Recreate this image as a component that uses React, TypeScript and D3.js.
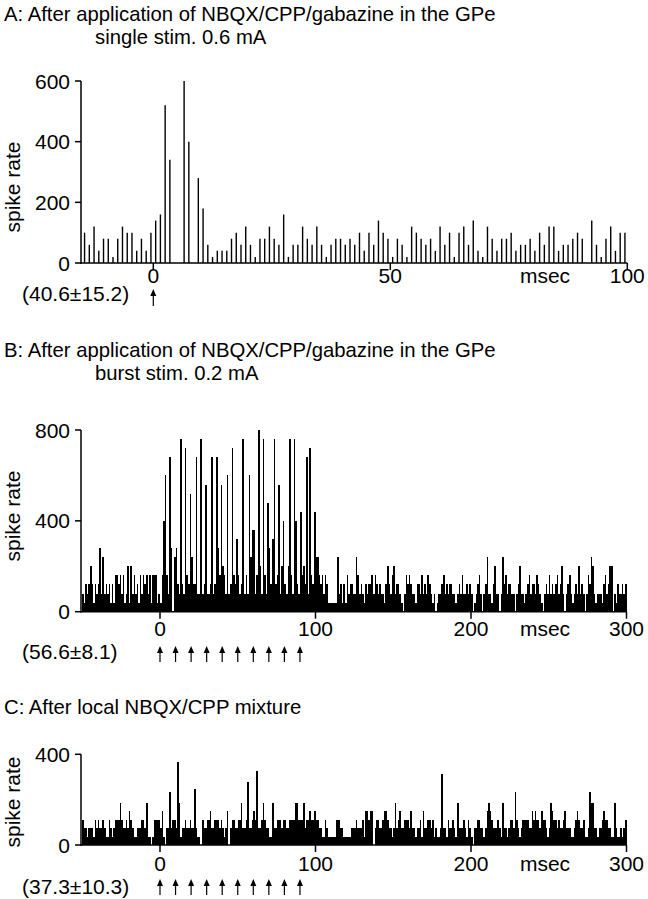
import React from "react";
import * as d3 from "d3";

// ---------- DATA ----------
// Panel A: 1-ms bins starting at -15 ms (spike rate, spikes/s)
const aStart = -15;
const aRate = [
  100, 60, 120, 40, 80, 80, 20, 80, 120, 100,
  100, 40, 80, 40, 100, 140, 160, 520, 340, 0,
  0, 600, 400, 0, 280, 180, 60, 20, 40, 40,
  40, 80, 100, 60, 120, 60, 20, 80, 80, 120,
  80, 60, 160, 20, 60, 60, 120, 80, 60, 120,
  60, 20, 60, 80, 80, 60, 80, 60, 100, 40,
  100, 60, 140, 100, 80, 20, 80, 60, 20, 120,
  100, 80, 60, 80, 40, 120, 60, 100, 20, 100,
  120, 60, 140, 40, 20, 120, 80, 40, 80, 80,
  100, 40, 60, 60, 80, 40, 100, 60, 120, 120,
  40, 60, 60, 80, 100, 80, 0, 140, 60, 20,
  80, 120, 40, 100, 100,
];

// Panel B: 1-ms bins starting at -50 ms
const bStart = -50;
const bRate = [
  80, 40, 120, 80, 120, 200, 120, 40, 120, 80,
  120, 280, 80, 240, 80, 120, 80, 120, 40, 120,
  40, 160, 160, 120, 160, 80, 160, 40, 80, 200,
  40, 200, 80, 160, 80, 120, 40, 160, 80, 160,
  120, 160, 80, 160, 40, 160, 160, 160, 40, 80,
  40, 160, 400, 600, 160, 80, 680, 280, 0, 240,
  280, 120, 80, 760, 120, 80, 720, 160, 120, 520,
  240, 120, 120, 680, 80, 80, 760, 80, 120, 560,
  80, 80, 120, 680, 80, 120, 680, 280, 160, 560,
  200, 160, 80, 600, 80, 120, 720, 160, 120, 320,
  160, 80, 120, 760, 80, 160, 80, 600, 240, 360,
  360, 80, 160, 800, 200, 80, 760, 160, 80, 480,
  280, 120, 320, 760, 120, 160, 560, 80, 200, 400,
  120, 80, 200, 760, 160, 80, 760, 400, 120, 80,
  440, 160, 200, 120, 680, 80, 720, 160, 120, 440,
  240, 240, 160, 120, 160, 80, 160, 120, 40, 40,
  40, 40, 40, 40, 240, 80, 120, 40, 120, 40,
  160, 80, 120, 120, 80, 80, 240, 160, 80, 120,
  80, 40, 120, 80, 120, 120, 160, 80, 160, 120,
  80, 120, 80, 80, 40, 120, 200, 120, 80, 160,
  200, 80, 120, 120, 80, 40, 0, 80, 160, 120,
  160, 120, 80, 80, 40, 120, 120, 80, 160, 80,
  120, 80, 160, 120, 80, 40, 80, 0, 40, 80,
  80, 120, 160, 80, 120, 80, 120, 120, 80, 80,
  40, 80, 120, 80, 160, 80, 80, 120, 80, 120,
  80, 0, 40, 80, 120, 160, 80, 0, 80, 120,
  240, 80, 80, 40, 120, 200, 80, 80, 0, 80,
  240, 120, 160, 80, 120, 120, 80, 80, 0, 80,
  120, 200, 80, 80, 40, 80, 120, 160, 80, 120,
  120, 80, 160, 120, 80, 40, 0, 80, 120, 80,
  160, 80, 120, 80, 120, 160, 80, 120, 200, 80,
  0, 80, 120, 160, 80, 40, 80, 120, 80, 200,
  80, 120, 80, 0, 80, 160, 120, 240, 200, 80,
  40, 80, 80, 80, 40, 120, 160, 80, 120, 200,
  200, 0, 80, 40, 120, 80, 80, 120, 80, 120,
];

// Panel C: 1-ms bins starting at -50 ms
const cStart = -50;
const cRate = [
  111, 74, 74, 37, 74, 74, 74, 37, 111, 74,
  111, 74, 74, 111, 74, 37, 37, 111, 74, 37,
  74, 111, 111, 111, 185, 111, 74, 74, 111, 74,
  148, 111, 74, 37, 37, 74, 74, 74, 111, 111,
  74, 185, 37, 37, 0, 37, 111, 111, 111, 111,
  74, 148, 37, 0, 74, 74, 235, 74, 111, 111,
  74, 365, 185, 37, 74, 74, 111, 74, 74, 111,
  74, 74, 247, 74, 37, 37, 0, 111, 74, 74,
  111, 111, 148, 74, 74, 111, 111, 111, 74, 111,
  74, 37, 74, 148, 0, 74, 111, 111, 74, 74,
  111, 111, 185, 74, 74, 111, 276, 74, 74, 111,
  148, 111, 328, 74, 74, 111, 185, 111, 74, 74,
  37, 37, 185, 74, 74, 111, 111, 111, 74, 111,
  111, 74, 74, 111, 111, 111, 111, 185, 185, 111,
  111, 111, 185, 74, 111, 111, 148, 111, 111, 148,
  111, 111, 74, 74, 37, 37, 111, 74, 37, 37,
  37, 37, 37, 111, 111, 111, 74, 74, 37, 37,
  37, 37, 37, 74, 74, 74, 111, 74, 74, 74,
  111, 37, 148, 148, 111, 148, 148, 0, 74, 111,
  111, 74, 74, 111, 148, 148, 111, 74, 74, 37,
  74, 185, 74, 111, 148, 74, 74, 111, 111, 111,
  74, 148, 74, 74, 37, 74, 74, 111, 37, 148,
  74, 74, 111, 111, 74, 111, 37, 74, 37, 37,
  74, 315, 74, 74, 37, 111, 74, 74, 111, 74,
  37, 185, 74, 74, 74, 111, 74, 37, 111, 74,
  37, 0, 74, 74, 111, 111, 74, 74, 37, 74,
  148, 185, 148, 111, 74, 74, 74, 111, 74, 37,
  185, 74, 74, 37, 74, 111, 111, 74, 235, 111,
  74, 37, 74, 111, 111, 111, 111, 74, 74, 148,
  111, 148, 111, 111, 74, 148, 111, 111, 74, 37,
  74, 185, 148, 111, 111, 74, 111, 74, 74, 111,
  148, 74, 74, 74, 37, 37, 74, 111, 148, 111,
  74, 74, 111, 37, 37, 74, 235, 185, 185, 74,
  74, 37, 74, 74, 111, 148, 111, 111, 74, 74,
  37, 37, 185, 74, 37, 37, 74, 37, 74, 111,
];

const aTitle = ["A: After application of NBQX/CPP/gabazine in the GPe", "single stim. 0.6 mA"];
const bTitle = ["B: After application of NBQX/CPP/gabazine in the GPe", "burst stim. 0.2 mA"];
const cTitle = ["C: After local NBQX/CPP mixture"];
const aYTicks = [0, 200, 400, 600];
const bYTicks = [0, 400, 800];
const cYTicks = [0, 400];
const aXTicks = [0, 50, 100];
const bXTicks = [0, 100, 200, 300];
const cXTicks = [0, 100, 200, 300];
const aNote = "(40.6±15.2)";
const bNote = "(56.6±8.1)";
const cNote = "(37.3±10.3)";
const aStims = [0];
const bStims = [0, 10, 20, 30, 40, 50, 60, 70, 80, 90];
const cStims = [0, 10, 20, 30, 40, 50, 60, 70, 80, 90];

// ---------- LAYOUT ----------
const FONT = "'Liberation Sans', Arial, Helvetica, sans-serif";
const TITLE_SIZE = 20.3;
const LABEL_SIZE = 21;
const AXIS_X = 81;

type PanelCfg = {
  title: string[];
  titleY: number;
  subX: number;
  x: d3.ScaleLinear<number, number>;
  y: d3.ScaleLinear<number, number>;
  xMax: number;
  yTicks: number[];
  xTicks: number[];
  tickLabelY: number;
  labelCenterY: number;
  note: string;
  noteY: number;
  arrowTop: number;
  arrowBottom: number;
  stims: number[];
  bars: React.ReactNode;
};

function Arrow({ x, top, bottom }: { x: number; top: number; bottom: number }) {
  return (
    <g>
      <line x1={x} x2={x} y1={bottom} y2={top + 5} stroke="#000" strokeWidth={1.2} />
      <path d={`M${x},${top} L${x - 3},${top + 7} L${x + 3},${top + 7} Z`} fill="#000" />
    </g>
  );
}

function Panel(p: PanelCfg) {
  const y0 = p.y(0);
  const yTop = p.y(p.yTicks[p.yTicks.length - 1]);
  return (
    <g>
      {p.title.map((t, i) => (
        <text key={i} x={i === 0 ? 4 : p.subX} y={p.titleY + i * 23} fontSize={TITLE_SIZE} fontFamily={FONT}>
          {t}
        </text>
      ))}
      {p.bars}
      {/* y axis */}
      <line x1={AXIS_X} x2={AXIS_X} y1={y0 + 0.75} y2={yTop} stroke="#000" strokeWidth={1.5} />
      {p.yTicks.map((v) => (
        <g key={v}>
          <line x1={AXIS_X - 6} x2={AXIS_X} y1={p.y(v)} y2={p.y(v)} stroke="#000" strokeWidth={1.5} />
          <text x={AXIS_X - 11} y={p.y(v)} dy="0.36em" textAnchor="end" fontSize={LABEL_SIZE} fontFamily={FONT}>
            {v}
          </text>
        </g>
      ))}
      <text
        transform={`translate(20,${p.labelCenterY}) rotate(-90)`}
        textAnchor="middle"
        fontSize={LABEL_SIZE}
        fontFamily={FONT}
      >
        spike rate
      </text>
      {/* x axis */}
      <line x1={AXIS_X - 0.75} x2={p.x(p.xMax)} y1={y0} y2={y0} stroke="#000" strokeWidth={1.5} />
      {p.xTicks.map((v) => (
        <g key={v}>
          <line x1={p.x(v)} x2={p.x(v)} y1={y0} y2={y0 + 7} stroke="#000" strokeWidth={1.5} />
          <text x={p.x(v)} y={p.tickLabelY} textAnchor="middle" fontSize={LABEL_SIZE} fontFamily={FONT}>
            {v}
          </text>
        </g>
      ))}
      <text x={545} y={p.tickLabelY} textAnchor="middle" fontSize={LABEL_SIZE} fontFamily={FONT}>
        msec
      </text>
      <text x={22} y={p.noteY} fontSize={LABEL_SIZE} fontFamily={FONT}>
        {p.note}
      </text>
      {p.stims.map((s) => (
        <Arrow key={s} x={p.x(s)} top={p.arrowTop} bottom={p.arrowBottom} />
      ))}
    </g>
  );
}

function lineBars(data: number[], start: number, x: d3.ScaleLinear<number, number>, y: d3.ScaleLinear<number, number>) {
  return (
    <g>
      {data.map((v, i) =>
        v > 0 ? (
          <line
            key={i}
            x1={x(start + i + 0.5)}
            x2={x(start + i + 0.5)}
            y1={y(0)}
            y2={y(v)}
            stroke="#000"
            strokeWidth={1.4}
          />
        ) : null
      )}
    </g>
  );
}

function rectBars(data: number[], start: number, x: d3.ScaleLinear<number, number>, y: d3.ScaleLinear<number, number>) {
  return (
    <g shapeRendering="crispEdges">
      {data.map((v, i) =>
        v > 0 ? (
          <rect
            key={i}
            x={x(start + i)}
            width={x(start + i + 1) - x(start + i)}
            y={y(v)}
            height={y(0) - y(v)}
            fill="#000"
          />
        ) : null
      )}
    </g>
  );
}

export default function App() {
  const xA = d3.scaleLinear().domain([0, 100]).range([153.3, 627.3]);
  const yA = d3.scaleLinear().domain([0, 600]).range([263, 81]);
  const xB = d3.scaleLinear().domain([0, 300]).range([160, 626.5]);
  const yB = d3.scaleLinear().domain([0, 800]).range([611.7, 430]);
  const xC = d3.scaleLinear().domain([0, 300]).range([160, 626.5]);
  const yC = d3.scaleLinear().domain([0, 400]).range([845, 754.3]);

  return (
    <svg width={648} height={899} style={{ position: "absolute", left: 0, top: 0, background: "#fff" }}>
      <rect width={648} height={899} fill="#fff" />
      <Panel
        title={aTitle}
        titleY={21}
        subX={95}
        x={xA}
        y={yA}
        xMax={100}
        yTicks={aYTicks}
        xTicks={aXTicks}
        tickLabelY={283}
        labelCenterY={187}
        note={aNote}
        noteY={301}
        arrowTop={289}
        arrowBottom={306}
        stims={aStims}
        bars={lineBars(aRate, aStart, xA, yA)}
      />
      <Panel
        title={bTitle}
        titleY={357}
        subX={95}
        x={xB}
        y={yB}
        xMax={300}
        yTicks={bYTicks}
        xTicks={bXTicks}
        tickLabelY={636}
        labelCenterY={516}
        note={bNote}
        noteY={659}
        arrowTop={646}
        arrowBottom={662}
        stims={bStims}
        bars={rectBars(bRate, bStart, xB, yB)}
      />
      <Panel
        title={cTitle}
        titleY={714}
        subX={95}
        x={xC}
        y={yC}
        xMax={300}
        yTicks={cYTicks}
        xTicks={cXTicks}
        tickLabelY={871}
        labelCenterY={802}
        note={cNote}
        noteY={894}
        arrowTop={879}
        arrowBottom={895}
        stims={cStims}
        bars={rectBars(cRate, cStart, xC, yC)}
      />
    </svg>
  );
}
